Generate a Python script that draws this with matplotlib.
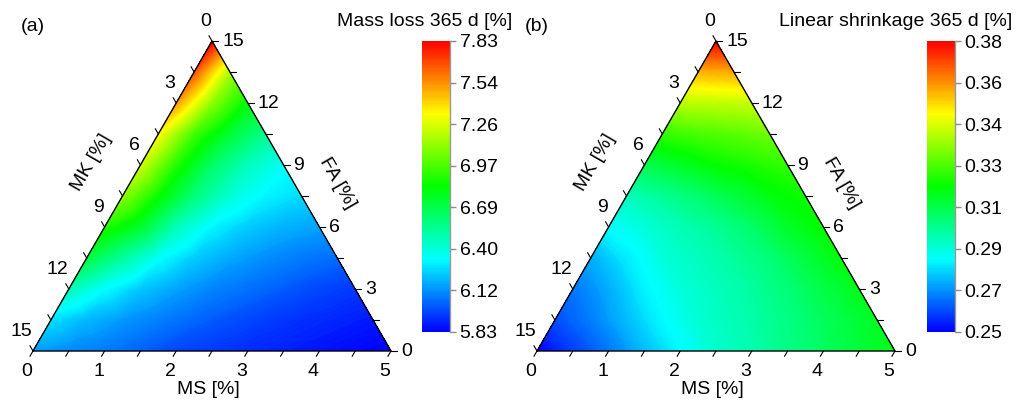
import numpy as np
import matplotlib
matplotlib.use('Agg')
import matplotlib.pyplot as plt
import matplotlib.tri as mtri
from matplotlib.colors import LinearSegmentedColormap, Normalize
from matplotlib.cm import ScalarMappable

plt.rcParams['font.family'] = ['Liberation Sans', 'DejaVu Sans']
plt.rcParams['font.size'] = 14

# lattice values, one row per FA level (FA = 0, 1.5, ... 15), MS increasing left to right
mass_loss_rows = [
    [6.14, 6.10, 6.07, 6.02, 5.97, 5.94, 5.91, 5.89, 5.87, 5.85, 5.83],
    [6.27, 6.19, 6.13, 6.08, 6.03, 5.99, 5.95, 5.92, 5.90, 5.88],
    [6.47, 6.33, 6.22, 6.15, 6.09, 6.05, 6.01, 5.97, 5.94],
    [6.70, 6.52, 6.34, 6.23, 6.16, 6.11, 6.07, 6.04],
    [6.89, 6.74, 6.47, 6.31, 6.23, 6.18, 6.15],
    [7.10, 6.84, 6.59, 6.41, 6.31, 6.26],
    [7.23, 6.89, 6.63, 6.46, 6.35],
    [7.32, 6.95, 6.72, 6.55],
    [7.52, 7.10, 6.81],
    [7.66, 7.16],
    [7.83],
]
shrinkage_rows = [
    [0.250, 0.258, 0.265, 0.274, 0.282, 0.289, 0.293, 0.298, 0.303, 0.308, 0.312],
    [0.260, 0.266, 0.274, 0.282, 0.288, 0.292, 0.296, 0.301, 0.306, 0.311],
    [0.265, 0.272, 0.281, 0.287, 0.291, 0.295, 0.300, 0.306, 0.312],
    [0.272, 0.280, 0.287, 0.291, 0.295, 0.300, 0.307, 0.314],
    [0.283, 0.287, 0.292, 0.296, 0.302, 0.310, 0.315],
    [0.291, 0.296, 0.301, 0.307, 0.313, 0.317],
    [0.305, 0.310, 0.315, 0.318, 0.321],
    [0.321, 0.324, 0.326, 0.329],
    [0.338, 0.339, 0.340],
    [0.357, 0.358],
    [0.380],
]

ms_labels = [0, 1, 2, 3, 4, 5]
mk_labels = [0, 3, 6, 9, 12, 15]
fa_labels = [0, 3, 6, 9, 12, 15]

mass_cbar_labels = ['5.83', '6.12', '6.40', '6.69', '6.97', '7.26', '7.54', '7.83']
shrink_cbar_labels = ['0.25', '0.27', '0.29', '0.31', '0.33', '0.34', '0.36', '0.38']

W, H = 1019, 403
S = np.sqrt(3) / 2
PX = 0.72  # points per pixel at 100 dpi
cmap = LinearSegmentedColormap.from_list(
    'rb', ['#0000ff', '#00ffff', '#00ff00', '#ffff00', '#ff0000'])

fig = plt.figure(figsize=(W / 100, H / 100), dpi=100)


def px_axes(x0, y0, x1, y1):
    return fig.add_axes([x0 / W, 1 - y1 / H, (x1 - x0) / W, (y1 - y0) / H])


def ternary(ax, rows, vmin, vmax):
    n = len(rows) - 1
    xs, ys = [], []
    for j in range(n + 1):
        for i in range(n + 1 - j):
            xs.append(i / n + j / (2 * n))
            ys.append(S * j / n)
    tri = mtri.Triangulation(xs, ys)
    z = np.concatenate([np.asarray(r, float) for r in rows])
    ax.tricontourf(tri, z, levels=np.linspace(vmin, vmax, 241), cmap=cmap,
                   vmin=vmin, vmax=vmax, extend='both', antialiased=False)
    ax.plot([0, 1, 0.5, 0], [0, 0, S, 0], color='k', lw=1.0, clip_on=False)
    ax.set_xlim(0, 1)
    ax.set_ylim(0, S)
    ax.set_axis_off()

    L = 6 / 358
    # MS along the bottom
    for v in np.arange(0, 5.01, 0.5):
        x0, y0 = v / 5, 0
        ax.plot([x0, x0 - 0.5 * L], [y0, y0 - S * L], color='k', lw=0.8, clip_on=False)
    for v in ms_labels:
        ax.annotate(str(v), (v / 5, 0), xytext=(-6 * PX, -21 * PX),
                    textcoords='offset points', ha='center', va='center')
    # FA along the right edge
    for v in np.arange(0, 15.01, 1.5):
        q = v / 15
        x0, y0 = 1 - q / 2, S * q
        ax.plot([x0, x0 + L], [y0, y0], color='k', lw=0.8, clip_on=False)
    for v in fa_labels:
        q = v / 15
        ax.annotate(str(v), (1 - q / 2, S * q), xytext=(10 * PX, 0),
                    textcoords='offset points', ha='left', va='center')
    # MK along the left edge
    for v in np.arange(0, 15.01, 1.5):
        r = v / 15
        x0, y0 = 0.5 - 0.5 * r, S * (1 - r)
        ax.plot([x0, x0 - 0.5 * L], [y0, y0 + S * L], color='k', lw=0.8, clip_on=False)
    for v in mk_labels:
        r = v / 15
        ax.annotate(str(v), (0.5 - 0.5 * r, S * (1 - r)), xytext=(-1 * PX, 19 * PX),
                    textcoords='offset points', ha='right', va='center')

    ax.annotate('MS [%]', (0.5, 0), xytext=(-4 * PX, -39 * PX),
                textcoords='offset points', ha='center', va='center')
    ax.annotate('MK [%]', (0.25, S / 2), xytext=(-31 * PX, 33 * PX),
                textcoords='offset points', ha='center', va='center',
                rotation=60, rotation_mode='anchor')
    ax.annotate('FA [%]', (0.75, S / 2), xytext=(36 * PX, 13 * PX),
                textcoords='offset points', ha='center', va='center',
                rotation=-60, rotation_mode='anchor')


def colorbar(cax, vmin, vmax, labels):
    sm = ScalarMappable(norm=Normalize(vmin, vmax), cmap=cmap)
    cb = fig.colorbar(sm, cax=cax, ticks=np.linspace(vmin, vmax, len(labels)))
    cb.set_ticklabels(labels)
    cb.outline.set_visible(False)
    cax.tick_params(direction='out', length=4, width=1, color='0.55', pad=3, labelsize=14)
    cax.plot([1, 1], [0, 1], transform=cax.transAxes, color='0.6', lw=1, clip_on=False)


# (a) mass loss
ax_a = px_axes(33, 41, 391, 351)
ternary(ax_a, mass_loss_rows, 5.83, 7.83)
colorbar(px_axes(422, 41, 450, 332), 5.83, 7.83, mass_cbar_labels)

# (b) linear shrinkage
ax_b = px_axes(537, 41, 895, 351)
ternary(ax_b, shrinkage_rows, 0.25, 0.38)
colorbar(px_axes(927, 41, 955, 332), 0.25, 0.38, shrink_cbar_labels)

fig.text(33 / W, 1 - 31 / H, '(a)', ha='center', va='baseline')
fig.text(537 / W, 1 - 31 / H, '(b)', ha='center', va='baseline')
fig.text(512 / W, 1 - 26 / H, 'Mass loss 365 d [%]', ha='right', va='baseline')
fig.text(1012 / W, 1 - 26 / H, 'Linear shrinkage 365 d [%]', ha='right', va='baseline')

fig.savefig('out.png', dpi=100)
